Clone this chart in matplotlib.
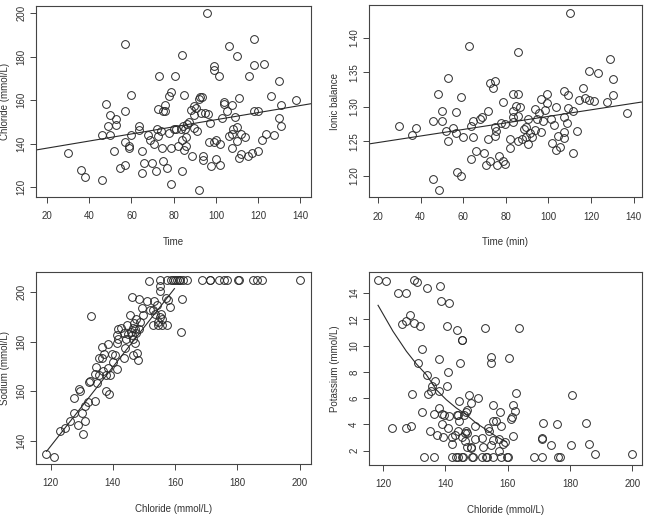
import numpy as np
import matplotlib
matplotlib.use("Agg")
import matplotlib.pyplot as plt

plt.rcParams["font.family"] = ["Liberation Sans", "DejaVu Sans"]

# --- panel 1: chloride vs time ---
time_cl = [30, 36, 38, 46, 46, 47.8, 50, 49.8, 49, 52.8, 52.8, 51.7, 54.7, 57, 57,
           57, 56.8, 58.7, 59, 59.6, 59.6, 63.4, 63.6, 64.8, 65, 66, 67.8, 69, 70.7,
           69.7, 71.6, 72, 72.9, 72.7, 72.7, 74, 74.6, 74.8, 75, 75.9, 76, 76.8, 77.6,
           78.9, 78, 78.9, 78.9, 80, 80.8, 81.3, 82, 83.3, 84, 84, 84, 85, 84.6, 85,
           85.2, 85.7, 85.7, 86.3, 87.3, 88, 89.5, 89.5, 88.8, 89.6, 91, 90.7, 91.8,
           92, 92.6, 93.3, 93, 93.7, 93.7, 95, 95.8, 96, 97, 96.7, 97.7, 99, 99, 99,
           100, 100, 101.6, 101.8, 101.7, 103, 104, 104, 105, 106, 106.2, 107.8, 107.8,
           107.8, 108.3, 108.8, 110, 110, 110, 111, 111, 112, 112, 113.9, 115, 115.7,
           117, 117.9, 117.9, 118.2, 119.8, 119.9, 122, 122.8, 123.7, 126, 127.7, 129.9,
           130, 131, 131, 138]
chloride_t = [135.7, 128, 125, 123.4, 144, 158.4, 144.2, 153, 148.3, 151.2, 148.6,
              136.5, 129, 186, 155, 141, 130.5, 139, 138, 162.5, 144.2, 146.4, 148,
              136.8, 126.4, 131.4, 144, 141.6, 139.7, 131.4, 127.5, 147, 171, 156,
              143.6, 146, 138, 132.3, 155, 157.8, 155, 129, 162, 163.7, 145, 121.5, 138,
              147, 171, 146.7, 139, 147, 180.5, 141.6, 127.6, 162.5, 148, 137.2, 147,
              143, 139, 149, 150, 155.5, 157.5, 153.4, 134.6, 147.4, 145.8, 156.4,
              160.4, 118.8, 161.6, 161.6, 154, 134.5, 132.5, 154.1, 200, 153.5, 149.4,
              140.7, 130, 175.8, 173.8, 141, 132.8, 141.8, 171.3, 130.2, 140, 151.7,
              159.2, 158.4, 155, 184.8, 143.8, 158, 138.3, 144.7, 147, 152.2, 180.2,
              147.9, 141.5, 160.8, 133.6, 135.4, 144.4, 142.9, 134.5, 171, 135.7, 188,
              176, 155.2, 155.2, 136.6, 141.8, 176.7, 144.4, 161.9, 144.1, 168.6, 151.8,
              157.6, 148.3, 160]
fit_cl_time = (134.75, 0.163)  # intercept, slope

# --- panel 2: ionic balance vs time ---
time_ib = [30, 36.1, 38, 45.8, 48.8, 45.8, 48, 49.8, 49.8, 51.9, 52.9, 52.9, 55, 56.8,
           56.9, 56.8, 59, 59, 59.9, 62.9, 63.8, 63.8, 64.7, 64.7, 66, 67.7, 68.8,
           69.9, 70.7, 71.6, 71.6, 72.6, 72.7, 73.8, 74.9, 74.9, 74.9, 75.5, 75.7,
           76.6, 77.7, 78.7, 78.7, 79.6, 79.6, 81.8, 81.8, 83.5, 83.5, 83.6, 83.6,
           84.6, 85.6, 85.6, 85.6, 85.6, 86.6, 87.6, 88.5, 89.5, 89.6, 90.6, 90.6,
           91.5, 92.4, 93.5, 93.5, 94.5, 95.6, 96.7, 96.7, 97.5, 98.4, 99.3, 99.3,
           101.4, 101.6, 102.4, 103.4, 103.4, 104.5, 105.5, 107.5, 107.5, 107.5,
           107.5, 108.5, 109.4, 109.4, 110.3, 111.4, 111.6, 113.4, 114.3, 116.4,
           117.3, 119.3, 119.3, 121.2, 123.3, 127.3, 129, 130.2, 130.2, 136.9]
ionic_bal = [1.2725, 1.2594, 1.269, 1.1947, 1.1787, 1.2787, 1.3184, 1.2932, 1.2787,
             1.2643, 1.3411, 1.2507, 1.2696, 1.2928, 1.2053, 1.2614, 1.3145, 1.1995,
             1.256, 1.3874, 1.2725, 1.2237, 1.2787, 1.2565, 1.2353, 1.2821, 1.2845,
             1.2333, 1.215, 1.2942, 1.2527, 1.2217, 1.3338, 1.327, 1.3367, 1.271,
             1.2575, 1.2647, 1.2155, 1.229, 1.2768, 1.3072, 1.2208, 1.2164, 1.2754,
             1.2396, 1.2531, 1.3179, 1.2783, 1.2855, 1.2932, 1.3014, 1.3797, 1.3184,
             1.2865, 1.2498, 1.299, 1.2527, 1.2671, 1.27, 1.2556, 1.2826, 1.2459,
             1.2614, 1.2556, 1.2971, 1.2667, 1.2826, 1.2903, 1.3106, 1.2633, 1.2787,
             1.2957, 1.3184, 1.3058, 1.2826, 1.2469, 1.2734, 1.3, 1.2367, 1.2575,
             1.242, 1.3232, 1.2855, 1.2628, 1.2546, 1.2758, 1.3164, 1.2986, 1.4353,
             1.2324, 1.2932, 1.2652, 1.3097, 1.3266, 1.3131, 1.3097, 1.3517, 1.3087,
             1.3483, 1.3068, 1.3691, 1.3406, 1.3174, 1.2908]
fit_ib_time = (1.2385, 0.000474)

# --- panel 3: sodium vs chloride ---
cl_na = [118.5, 121, 123.1, 124.6, 126.3, 127.5, 127.5, 128.8, 129, 129.4, 130.2,
         130.3, 130.9, 131.1, 132, 132.4, 132.8, 133, 134.3, 134.3, 134.5, 135,
         135.5, 135.5, 136.4, 136.4, 136.8, 137.2, 137.9, 137.9, 138.6, 138.6, 138.8,
         139.2, 139.6, 140.1, 140.6, 141.2, 141.4, 141.4, 141.8, 141.8, 142.7, 143.5,
         143.7, 143.9, 144.2, 144.6, 144.9, 145.4, 145.7, 146.1, 146, 146.4, 146.5,
         146.6, 146.8, 147, 147.2, 147.5, 147.6, 147.8, 148.1, 148.3, 148.5, 148.7,
         149.4, 149.8, 150.9, 151.6, 152, 152.8, 153, 153.3, 153.7, 154.1, 154.4,
         154.6, 155, 155, 155.2, 155.2, 155.4, 155.7, 155.9, 157, 157.3, 157.5, 157.7,
         158.4, 158.6, 159.3, 160, 160.6, 161.2, 161.6, 162.2, 162, 162.7, 163.8,
         168.7, 171.1, 171.3, 174, 175.8, 176.7, 180.1, 180.5, 185, 186.3, 188, 200]
sodium = [134.7, 133.3, 144, 145, 147.8, 157.3, 151.4, 146.5, 160.8, 160, 151.4,
          142.7, 147.8, 154, 155.5, 163.7, 164, 190.3, 155.9, 166.9, 170, 163.3,
          166.7, 173.4, 177.7, 173.4, 168.3, 175, 166.7, 160, 179, 169.4, 158.9,
          166.7, 175, 172, 174.7, 169.1, 179.4, 182.9, 185.3, 181.2, 185.6, 183.5,
          173.4, 177.5, 181, 186.9, 183.1, 190.7, 183.9, 198.2, 182.6, 174.7, 185.6,
          181.2, 187.5, 179.4, 185.1, 183.4, 189.4, 175.3, 172.8, 197.4, 185.1,
          188.1, 193.7, 190.7, 196.4, 204.5, 192.7, 192.7, 186.9, 196.4, 191.2,
          194.7, 188.1, 186.9, 205, 200.6, 202.5, 189.9, 191.2, 189.4, 186.9, 197.9,
          186.9, 205, 197.1, 193.9, 205, 205, 205, 205, 205, 205, 197.4, 183.9, 205,
          205, 205, 205, 205, 205, 205, 205, 205, 205, 205, 205, 205, 205]
fit_na_x = [118.7, 159.8]
fit_na_y = [135.7, 201.5]

# --- panel 4: potassium vs chloride ---
cl_k = [118.4, 121.1, 124.7, 127.3, 129.8, 131, 134, 138.2, 138.5, 141.2, 126.2,
        127.5, 128.7, 130, 131.9, 140.6, 143.8, 145.2, 145.3, 152.8, 163.6, 132.6,
        137.8, 154.7, 160.4, 131.1, 144.7, 154.6, 140.8, 134.2, 136.6, 135.7, 135.3,
        134.5, 138, 140.4, 129.3, 147.7, 150.6, 162.6, 180.8, 138, 144.3, 148.1,
        155.2, 161.7, 162.2, 157.4, 146.8, 146.5, 146.1, 132.6, 136.5, 138.9, 139.6,
        141.2, 143.6, 144.2, 161.5, 161.2, 122.9, 127.3, 129, 135, 137.2, 139, 139.3,
        140.8, 142.1, 142.2, 144.3, 144.1, 143.1, 145.3, 146.3, 146.7, 147.1, 146.3,
        147.1, 148.1, 148.3, 149.4, 149.6, 151.8, 152, 153.7, 153.9, 154.7, 155.2,
        155.4, 156.1, 157.2, 157.1, 157.9, 158.5, 159.2, 161.7, 133.2, 136.4, 142.1,
        143.4, 144.1, 145.4, 145.8, 148.6, 148.8, 151.6, 153.1, 153.5, 155.4, 158,
        159.7, 160.1, 168.6, 170.9, 176.3, 176.8, 171.2, 170.9, 171, 175.7, 173.9,
        180.2, 185, 186, 188, 200]
potassium = [15.0, 14.9, 14, 14, 15, 14.8, 14.4, 14.5, 13.4, 13.2, 11.6, 11.9, 12.3,
             11.7, 11.5, 11.5, 11.2, 10.45, 10.4, 11.3, 11.3, 9.7, 9.0, 9.1, 9.05, 8.7,
             8.7, 8.7, 8, 7.73, 7.28, 6.9, 6.54, 6.31, 6.57, 6.92, 6.31, 6.21, 6.0,
             6.36, 6.21, 5.25, 5.8, 5.6, 5.45, 5.45, 5.0, 4.94, 5.1, 4.94, 4.74, 4.94,
             4.79, 4.79, 4.74, 4.61, 4.74, 4.74, 4.54, 4.39, 3.73, 3.73, 3.9, 3.52,
             3.22, 4.03, 3.02, 3.73, 3.02, 2.51, 4.23, 3.47, 3.17, 3.02, 3.35, 3.47,
             3.37, 2.71, 2.25, 2.2, 2.28, 3.85, 2.91, 2.96, 2.28, 3.73, 3.47, 2.41,
             2.84, 4.26, 4.28, 2.89, 2.0, 3.88, 2.51, 2.64, 3.12, 1.52, 1.52, 1.52,
             1.52, 1.52, 1.52, 1.52, 1.52, 1.52, 1.52, 1.52, 1.52, 1.52, 1.52, 1.52,
             1.52, 1.52, 1.52, 1.52, 1.52, 4.08, 2.96, 2.86, 4.03, 2.41, 2.41, 4.08,
             2.51, 1.77, 1.77]
smooth_k_x = [118.4, 123.2, 127.5, 130.7, 133.9, 137.1, 140.3, 143.5, 146.7, 149.9,
              153.1, 156.3, 159.6]
smooth_k_y = [13.06, 11.08, 9.56, 8.6, 7.78, 6.64, 5.88, 5.25, 4.74, 4.1, 3.6, 3.09,
              2.66]

INK = "#2a2a2a"
TXT = "#333333"
W, H = 646, 516


def px_axes(fig, x0, y0, x1, y1):
    # axes placed by pixel box (top-left origin)
    return fig.add_axes([x0 / W, 1 - y1 / H, (x1 - x0) / W, (y1 - y0) / H])


def style(ax, box, xticks, yticks, xlim, ylim, xlabel, ylabel, ylab_px,
          yfmt="{:g}"):
    x0, y0, x1, y1 = box
    ax.set_xlim(*xlim)
    ax.set_ylim(*ylim)
    ax.set_xticks(xticks)
    ax.set_yticks(yticks)
    ax.set_yticklabels([yfmt.format(v) for v in yticks], rotation=90, va="center")
    ax.tick_params(length=4.3, width=0.7, color="#444444", labelsize=7,
                   labelcolor=TXT)
    ax.tick_params(axis="x", pad=6)
    ax.tick_params(axis="y", pad=2.5)
    for s in ax.spines.values():
        s.set_linewidth(0.8)
        s.set_color("#444444")
    ax.set_xlabel(xlabel, fontsize=7, color=TXT)
    ax.set_ylabel(ylabel, fontsize=7, color=TXT)
    # label positions in pixels, converted to axes fractions
    ax.xaxis.set_label_coords(0.5, -40 / (y1 - y0))
    ax.yaxis.set_label_coords((ylab_px - x0) / (x1 - x0), 0.5)


def scatter(ax, x, y):
    ax.plot(x, y, "o", mfc="none", mec=INK, ms=5.6, mew=0.7, ls="none")


fig = plt.figure(figsize=(W / 100, H / 100), dpi=100)

b1 = (36, 6, 311, 197)
ax1 = px_axes(fig, *b1)
scatter(ax1, time_cl, chloride_t)
ax1.axline((0, fit_cl_time[0]), slope=fit_cl_time[1], color=INK, lw=0.8)
style(ax1, b1, range(20, 141, 20), range(120, 201, 20), (14.8, 145), (115.6, 203.2),
      "Time", "Chloride (mmol/L)", 10)

b2 = (368.7, 5, 642.3, 197.3)
ax2 = px_axes(fig, *b2)
scatter(ax2, time_ib, ionic_bal)
ax2.axline((0, fit_ib_time[0]), slope=fit_ib_time[1], color=INK, lw=0.8)
style(ax2, b2, range(20, 141, 20), [1.20, 1.25, 1.30, 1.35, 1.40], (15.6, 144.1),
      (1.1686, 1.4473), "Time (min)", "Ionic balance", 340, yfmt="{:.2f}")

b3 = (35.7, 272.3, 310.7, 464)
ax3 = px_axes(fig, *b3)
scatter(ax3, cl_na, sodium)
ax3.plot(fit_na_x, fit_na_y, color=INK, lw=0.8)
style(ax3, b3, range(120, 201, 20), range(140, 201, 20), (115.2, 203.6),
      (130.6, 208.1), "Chloride (mmol/L)", "Sodium (mmol/L)", 10)

b4 = (368.7, 272.3, 642.3, 464.7)
ax4 = px_axes(fig, *b4)
scatter(ax4, cl_k, potassium)
ax4.plot(smooth_k_x, smooth_k_y, color=INK, lw=0.8)
style(ax4, b4, range(120, 201, 20), range(2, 15, 2), (115.4, 203.2), (0.935, 15.57),
      "Chloride (mmol/L)", "Potassium (mmol/L)", 340)

fig.savefig("out.png", dpi=100)
